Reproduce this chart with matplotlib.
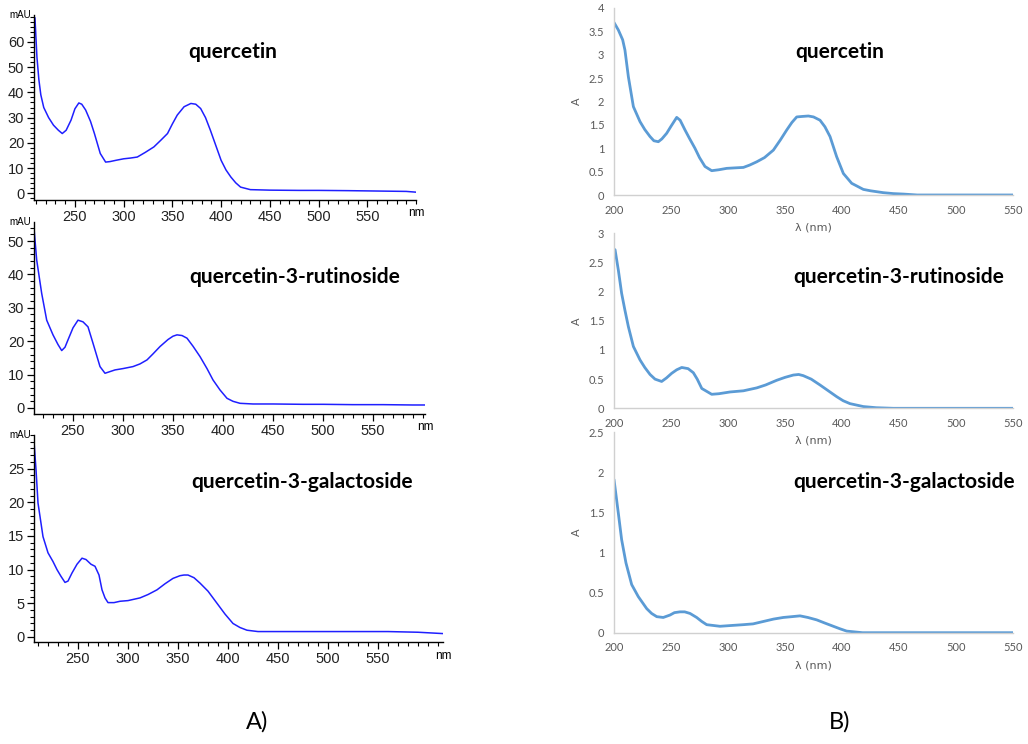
import matplotlib
matplotlib.use("Agg")
import matplotlib.pyplot as plt
from matplotlib.ticker import MultipleLocator

# ---- A) HPLC DAD spectra (mAU) ----
wl_q_a = [209, 211, 213, 215, 218, 223, 228, 233, 237, 241, 246, 250, 254, 257, 261, 266, 270,
          276, 281.5, 286, 292, 300, 307, 314, 322, 331, 338, 345, 350, 355, 362, 369, 374, 379,
          384, 389, 395, 400, 405, 410, 415, 420, 430, 450, 480, 500, 530, 550, 570, 590, 600]
abs_q_a = [69.4, 54, 45, 39, 34, 30, 27, 25, 23.7, 25, 29, 33.5, 35.8, 35.3, 33, 28.5, 23.7,
           15.8, 12.4, 12.6, 13.1, 13.7, 14.0, 14.4, 16.2, 18.4, 21, 23.7, 27.5, 31, 34.3, 35.6,
           35.3, 33.6, 30, 25, 18.5, 13.1, 9.3, 6.5, 4.2, 2.5, 1.5, 1.3, 1.2, 1.2, 1.1, 1.0, 0.9,
           0.8, 0.5]

wl_r_a = [211, 213.7, 218.7, 223.7, 230, 235, 238.7, 242, 245, 250, 255, 260, 265, 270, 277,
          282, 287, 292, 300, 310, 317, 324, 330, 337, 345, 350, 354, 359, 364, 370, 377, 384,
          390, 397, 404, 410, 417, 430, 450, 480, 500, 530, 560, 590, 602]
abs_r_a = [53.8, 44.3, 34.3, 26.3, 21.9, 19, 17.2, 18.2, 20.4, 24, 26.3, 25.8, 24.3, 19.4, 12.4,
           10.4, 10.9, 11.4, 11.8, 12.4, 13.2, 14.4, 16.2, 18.4, 20.5, 21.5, 21.9, 21.7, 20.9,
           18.5, 15.4, 11.8, 8.4, 5.4, 2.9, 2.0, 1.4, 1.2, 1.2, 1.1, 1.1, 1.0, 1.0, 0.9, 0.9]

wl_g_a = [206, 208, 210, 215, 220, 225, 229, 233, 237, 240, 244, 249, 254, 258, 263, 267, 271,
          274, 277, 280, 286, 292, 300, 312, 320, 329, 337, 345, 352, 356, 360, 366, 372, 380,
          389, 397, 405, 412, 419, 430, 450, 480, 500, 530, 560, 590, 615]
abs_g_a = [29, 24.9, 19.9, 14.9, 12.5, 11.2, 10, 9, 8.1, 8.3, 9.5, 10.8, 11.7, 11.5, 10.8, 10.5,
           9.2, 7, 5.8, 5.1, 5.1, 5.3, 5.4, 5.8, 6.3, 7, 7.9, 8.7, 9.1, 9.2, 9.2, 8.8, 8, 6.8,
           5, 3.4, 2, 1.4, 1.0, 0.8, 0.8, 0.8, 0.8, 0.8, 0.8, 0.7, 0.5]

# ---- B) UV-Vis spectrophotometer (A) ----
wl_q_b = [200, 203.8, 207.6, 209.6, 212.6, 217, 222.8, 227, 231.6, 235, 238.9, 242, 246.2, 250,
          255, 258, 262.3, 266, 271, 275, 279.8, 285.7, 292, 298.9, 306, 313.5, 319, 325.2, 332,
          339.8, 346, 351.5, 356, 360.3, 365, 370.5, 375, 380.7, 385, 389.5, 395.3, 401.2, 408.5,
          418.7, 425, 436.2, 445, 453.8, 466, 480, 500, 520, 550]
abs_q_b = [3.69, 3.53, 3.32, 3.1, 2.53, 1.89, 1.57, 1.4, 1.25, 1.16, 1.14, 1.2, 1.32, 1.47,
           1.66, 1.6, 1.39, 1.22, 1.0, 0.8, 0.61, 0.52, 0.54, 0.57, 0.58, 0.59, 0.64, 0.71, 0.8,
           0.96, 1.18, 1.39, 1.55, 1.67, 1.68, 1.69, 1.67, 1.6, 1.46, 1.25, 0.82, 0.46, 0.25,
           0.12, 0.09, 0.05, 0.03, 0.02, 0.0, 0.0, 0.0, 0.0, 0.0]

wl_r_b = [200.9, 203.8, 206.7, 209.6, 212.6, 217, 222.8, 227, 231.6, 236, 241.8, 246, 250.6,
          255, 259.4, 265, 269.6, 273, 277, 285.7, 292, 301.8, 313.5, 325.2, 333, 342.7, 350,
          357.3, 362, 366, 373, 380.7, 388, 395.3, 401, 407, 418.7, 430, 445, 460, 500, 550]
abs_r_b = [2.72, 2.37, 1.97, 1.68, 1.4, 1.06, 0.83, 0.7, 0.58, 0.5, 0.46, 0.52, 0.6, 0.66,
           0.7, 0.68, 0.61, 0.5, 0.34, 0.24, 0.25, 0.28, 0.3, 0.35, 0.4, 0.48, 0.53, 0.57, 0.58,
           0.56, 0.5, 0.4, 0.3, 0.2, 0.13, 0.08, 0.03, 0.01, 0.0, 0.0, 0.0, 0.0]

wl_g_b = [200, 203.8, 206.7, 210.5, 215.5, 221.3, 228.7, 233, 237.5, 243.2, 249.1, 253, 257.9,
          262, 266.7, 272.5, 277, 281.3, 293, 303, 313.4, 322, 331, 340, 348.5, 356, 363.2, 370,
          377.8, 385, 392.4, 398, 404.1, 418, 450, 500, 550]
abs_g_b = [1.91, 1.49, 1.16, 0.87, 0.6, 0.45, 0.3, 0.24, 0.2, 0.19, 0.22, 0.25, 0.26, 0.26,
           0.24, 0.19, 0.14, 0.1, 0.08, 0.09, 0.1, 0.11, 0.14, 0.17, 0.19, 0.2, 0.21, 0.19,
           0.16, 0.12, 0.08, 0.05, 0.02, 0.0, 0.0, 0.0, 0.0]

names = ["quercetin", "quercetin-3-rutinoside", "quercetin-3-galactoside"]

W, H = 1028, 744
fig = plt.figure(figsize=(W / 100, H / 100), dpi=100)


def frac(x0, y0, x1, y1):
    # pixel box (left, top, right, bottom) -> figure fraction rect
    return [x0 / W, 1 - y1 / H, (x1 - x0) / W, (y1 - y0) / H]


# left column, HPLC style
left_boxes = [(34, 15, 416, 200), (34, 222, 425, 414), (34, 435, 443, 642)]
left_xlim = [(208, 600), (211, 602), (206, 615)]
left_ylim = [(-2.6, 70.6), (-1.8, 55.7), (-0.75, 30)]
left_ystep = [(10, 2), (10, 2), (5, 1)]
left_data = [(wl_q_a, abs_q_a), (wl_r_a, abs_r_a), (wl_g_a, abs_g_a)]
left_title_pos = [(233, 52), (295, 277), (302, 482)]

for i in range(3):
    ax = fig.add_axes(frac(*left_boxes[i]))
    ax.patch.set_alpha(0)
    x, y = left_data[i]
    ax.plot(x, y, color="#1f1fff", lw=1.1)
    ax.set_xlim(*left_xlim[i])
    ax.set_ylim(*left_ylim[i])
    for s in ["top", "right"]:
        ax.spines[s].set_visible(False)
    for s in ["left", "bottom"]:
        ax.spines[s].set_linewidth(1.0)
        ax.spines[s].set_color("black")
    ax.xaxis.set_major_locator(MultipleLocator(50))
    ax.xaxis.set_minor_locator(MultipleLocator(10))
    ax.yaxis.set_major_locator(MultipleLocator(left_ystep[i][0]))
    ax.yaxis.set_minor_locator(MultipleLocator(left_ystep[i][1]))
    ax.tick_params(which="major", length=5, width=0.9, labelsize=10.5, pad=2)
    ax.tick_params(which="minor", length=3, width=0.8)
    ax.set_xticks([t for t in range(250, 600, 50)])
    ax.set_yticks([t for t in range(0, int(left_ylim[i][1]), left_ystep[i][0])])
    for lab in ax.get_xticklabels() + ax.get_yticklabels():
        lab.set_fontfamily("Liberation Sans")
        lab.set_color("#222222")
    ax.text(-0.008, 1.0, "mAU", transform=ax.transAxes, ha="right", va="center",
            fontsize=7, family="Liberation Sans")
    ax.text(1.0, -0.07, "nm", transform=ax.transAxes, ha="center", va="center",
            fontsize=8.5, family="Liberation Sans")
    tx, ty = left_title_pos[i]
    fig.text(tx / W, 1 - ty / H, names[i], ha="center", va="center",
             fontsize=15, fontweight="bold", family="Lato")

# right column, spreadsheet style
right_boxes = [(614, 8, 1013, 195), (614, 233.3, 1013, 408.3), (614, 432.2, 1013, 632.7)]
right_ylim = [(0, 4), (0, 3), (0, 2.5)]
right_data = [(wl_q_b, abs_q_b), (wl_r_b, abs_r_b), (wl_g_b, abs_g_b)]
right_title_pos = [(840, 52), (899, 277), (904, 482)]
grey = "#595959"

for i in range(3):
    ax = fig.add_axes(frac(*right_boxes[i]))
    ax.patch.set_alpha(0)
    x, y = right_data[i]
    ax.plot(x, y, color="#5b9bd5", lw=2.0, solid_capstyle="round")
    ax.set_xlim(200, 550)
    ax.set_ylim(*right_ylim[i])
    for s in ["top", "right"]:
        ax.spines[s].set_visible(False)
    for s in ["left", "bottom"]:
        ax.spines[s].set_color("#d0d0d0")
        ax.spines[s].set_linewidth(1.0)
    ax.xaxis.set_major_locator(MultipleLocator(50))
    nt = int(right_ylim[i][1] / 0.5) + 1
    ax.set_yticks([k * 0.5 for k in range(nt)])
    ax.set_yticklabels(["%g" % (k * 0.5) for k in range(nt)])
    ax.tick_params(length=0, labelsize=8, labelcolor=grey, pad=7)
    for lab in ax.get_xticklabels() + ax.get_yticklabels():
        lab.set_fontfamily("Lato")
    ax.set_ylabel("A", fontsize=8, color=grey, family="Lato", labelpad=5)
    ax.set_xlabel("λ (nm)", fontsize=8, color=grey, family="DejaVu Sans", labelpad=5)
    tx, ty = right_title_pos[i]
    fig.text(tx / W, 1 - ty / H, names[i], ha="center", va="center",
             fontsize=15, fontweight="bold", family="Lato")

fig.text(257 / W, 1 - 722 / H, "A)", ha="center", va="center", fontsize=17, family="Lato")
fig.text(840 / W, 1 - 722 / H, "B)", ha="center", va="center", fontsize=17, family="Lato")

fig.savefig("out.png", dpi=100, facecolor="white")
